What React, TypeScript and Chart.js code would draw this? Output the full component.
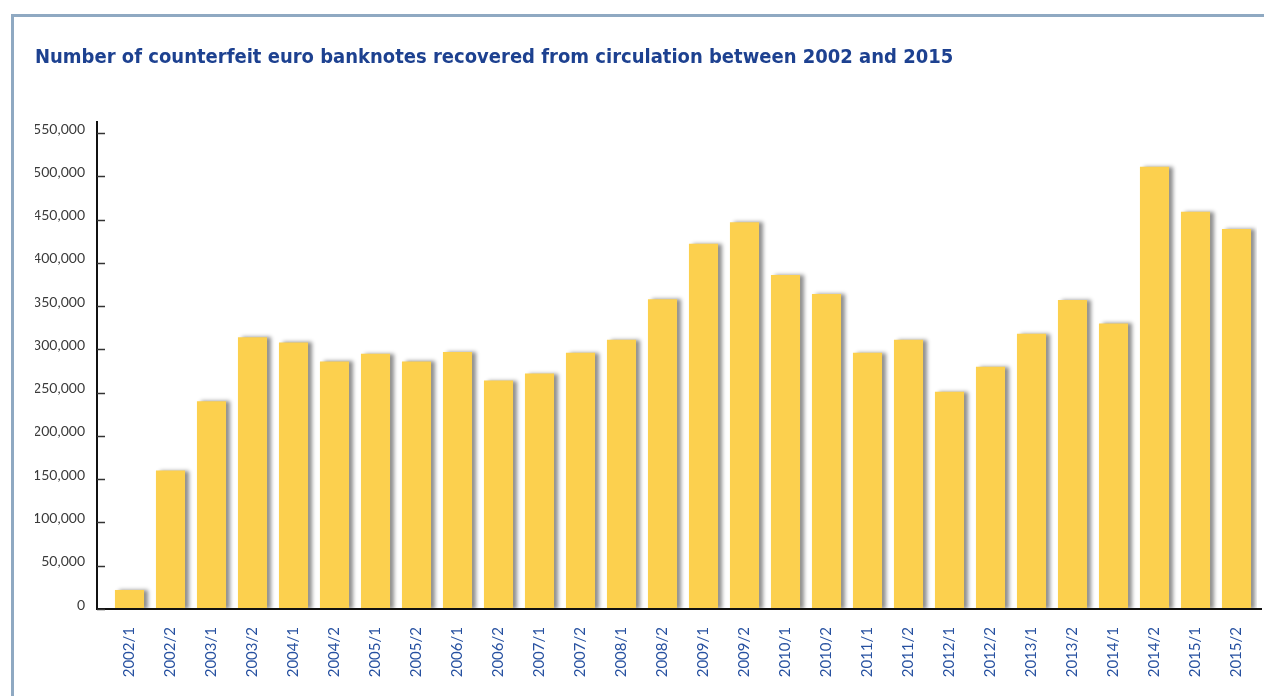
import React, { useEffect, useRef } from 'react';
import { Chart, registerables } from 'chart.js';

Chart.register(...registerables);

const titleText = 'Number of counterfeit euro banknotes recovered from circulation between 2002 and 2015';

const periods = [
  '2002/1', '2002/2', '2003/1', '2003/2', '2004/1', '2004/2', '2005/1',
  '2005/2', '2006/1', '2006/2', '2007/1', '2007/2', '2008/1', '2008/2',
  '2009/1', '2009/2', '2010/1', '2010/2', '2011/1', '2011/2', '2012/1',
  '2012/2', '2013/1', '2013/2', '2014/1', '2014/2', '2015/1', '2015/2'
];

const counterfeits = [
  22000, 160000, 240000, 314000, 308000, 286000, 295000,
  286000, 297000, 264000, 272000, 296000, 311000, 358000,
  422000, 447000, 386000, 364000, 296000, 311000, 251000,
  280000, 318000, 357000, 330000, 511000, 459000, 439000
];

const yMax = 550000;
const yStep = 50000;

// bar shadow + hand-drawn axes (axis line sits left of the first category)
const axesPlugin = {
  id: 'axesPlugin',
  beforeDatasetsDraw: (chart: any) => {
    const ctx = chart.ctx;
    ctx.save();
    ctx.shadowColor = 'rgba(0, 0, 0, 0.45)';
    ctx.shadowBlur = 4;
    ctx.shadowOffsetX = 4;
    ctx.shadowOffsetY = 0;
  },
  afterDatasetsDraw: (chart: any) => {
    const ctx = chart.ctx;
    ctx.restore();
    const area = chart.chartArea;
    const yScale = chart.scales.y;
    const axisX = area.left - 12;

    ctx.save();
    ctx.strokeStyle = '#111';
    ctx.lineWidth = 2;
    ctx.beginPath();
    ctx.moveTo(axisX, area.top - 12);
    ctx.lineTo(axisX, area.bottom);
    ctx.lineTo(area.right + 5, area.bottom);
    ctx.stroke();

    ctx.strokeStyle = '#333';
    ctx.lineWidth = 1.5;
    yScale.ticks.forEach((t: any) => {
      const y = Math.round(yScale.getPixelForValue(t.value)) + 0.5;
      ctx.beginPath();
      ctx.moveTo(axisX, y);
      ctx.lineTo(axisX + 8, y);
      ctx.stroke();
    });
    ctx.restore();
  }
};

const App: React.FC = () => {
  const canvasRef = useRef<HTMLCanvasElement | null>(null);
  const chartInstance = useRef<Chart | null>(null);

  useEffect(() => {
    if (!canvasRef.current) return;
    if (chartInstance.current) {
      chartInstance.current.destroy();
    }

    chartInstance.current = new Chart(canvasRef.current, {
      type: 'bar',
      data: {
        labels: periods,
        datasets: [
          {
            label: 'Counterfeits',
            data: counterfeits,
            backgroundColor: '#fcd04e',
            borderWidth: 0,
            barPercentage: 0.71,
            categoryPercentage: 1
          }
        ]
      },
      options: {
        responsive: true,
        maintainAspectRatio: false,
        animation: false,
        layout: {
          padding: { left: 35, right: 7, top: 0, bottom: 0 }
        },
        plugins: {
          legend: { display: false },
          tooltip: { enabled: false },
          title: {
            display: true,
            text: titleText,
            align: 'start',
            color: '#1d4190',
            font: { family: "'Liberation Sans Narrow', 'DejaVu Sans Condensed', 'Liberation Sans', sans-serif", size: 20, weight: 'bold' },
            padding: { top: 46, bottom: 63 }
          }
        },
        scales: {
          x: {
            grid: { display: false, drawTicks: false },
            border: { display: false },
            ticks: {
              autoSkip: false,
              maxRotation: 90,
              minRotation: 90,
              padding: 18,
              color: '#2650a0',
              font: { family: 'Lato', size: 15 }
            },
            afterFit: (scale: any) => {
              scale.height = 87;
              scale.paddingLeft = 0;
              scale.paddingRight = 0;
            }
          },
          y: {
            min: 0,
            max: yMax,
            grid: { display: false, drawTicks: false },
            border: { display: false },
            ticks: {
              stepSize: yStep,
              padding: 24,
              labelOffset: -4,
              color: '#3a3a3a',
              font: { family: 'Lato', size: 14 },
              callback: (v: any) => Number(v).toLocaleString('en-US')
            },
            afterFit: (scale: any) => {
              scale.width = 74;
            }
          }
        }
      },
      plugins: [axesPlugin]
    });

    return () => {
      if (chartInstance.current) {
        chartInstance.current.destroy();
        chartInstance.current = null;
      }
    };
  }, []);

  return (
    <div style={{ position: 'fixed', left: 0, top: 0, width: 1264, height: 696, background: '#fff', overflow: 'hidden' }}>
      <div
        style={{
          position: 'absolute',
          left: 11,
          top: 14,
          width: 1300,
          height: 720,
          borderTop: '3px solid #8fa9c2',
          borderLeft: '3px solid #8fa9c2'
        }}
      />
      <div style={{ position: 'absolute', left: 0, top: 0, width: 1264, height: 696 }}>
        <canvas ref={canvasRef}></canvas>
      </div>
    </div>
  );
};

export default App;
